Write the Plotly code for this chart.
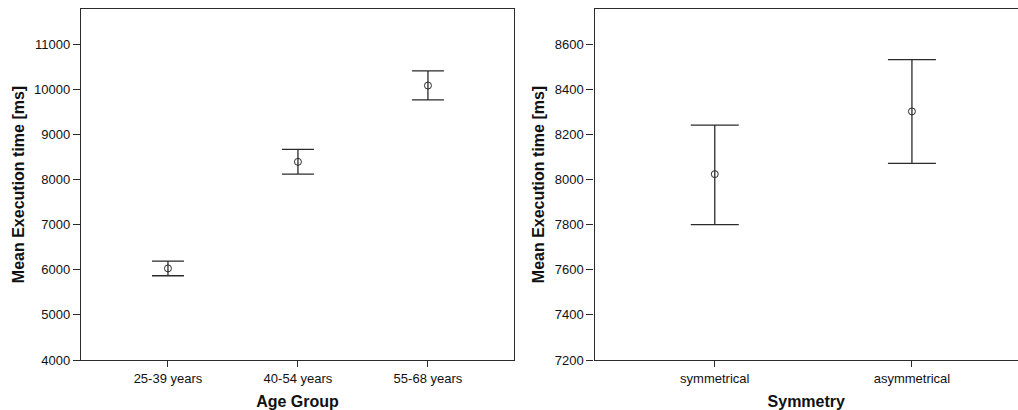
import plotly.graph_objects as go

# Left panel: Age Group
age_groups = ["25-39 years", "40-54 years", "55-68 years"]
age_means = [6030, 8390, 10080]
age_upper = [6190, 8665, 10405]
age_lower = [5867, 8118, 9763]

# Right panel: Symmetry
sym_groups = ["symmetrical", "asymmetrical"]
sym_means = [8024, 8302]
sym_upper = [8241, 8532]
sym_lower = [7800, 8072]

left_ticks = [4000, 5000, 6000, 7000, 8000, 9000, 10000, 11000]
right_ticks = [7200, 7400, 7600, 7800, 8000, 8200, 8400, 8600]

W, H = 1018, 410
line_col = "#2b2b2b"
font_fam = "Liberation Sans, Arial, sans-serif"

fig = go.Figure()

def add_panel(cats, means, upper, lower, xa, ya, capw):
    fig.add_trace(go.Scatter(
        x=list(range(len(cats))), y=means, mode="markers",
        xaxis=xa, yaxis=ya,
        marker=dict(symbol="circle-open", size=7, color=line_col, line=dict(width=1, color=line_col)),
        error_y=dict(type="data", symmetric=False,
                     array=[u - m for u, m in zip(upper, means)],
                     arrayminus=[m - l for m, l in zip(means, lower)],
                     color=line_col, thickness=1.3, width=capw),
        showlegend=False, hoverinfo="skip"))

add_panel(age_groups, age_means, age_upper, age_lower, "x", "y", 16)
add_panel(sym_groups, sym_means, sym_upper, sym_lower, "x2", "y2", 24)

common_x = dict(showgrid=False, zeroline=False, showline=True, linecolor=line_col, linewidth=1.3,
                ticks="outside", ticklen=6, tickcolor=line_col, tickwidth=1,
                tickfont=dict(family=font_fam, size=13, color="#111"),
                title_font=dict(family=font_fam, size=16, color="#111"))
common_y = dict(showgrid=False, zeroline=False, showline=True, linecolor=line_col, linewidth=1.3,
                ticks="outside", ticklen=7, tickcolor=line_col, tickwidth=1, tickformat="d",
                tickfont=dict(family=font_fam, size=13, color="#111"),
                title_font=dict(family=font_fam, size=16, color="#111"))

fig.update_layout(
    width=W, height=H,
    margin=dict(l=0, r=0, t=9, b=50),
    paper_bgcolor="white", plot_bgcolor="white",
    font=dict(family=font_fam),
    xaxis=dict(domain=[81 / W, 514 / W], range=[-0.669, 2.662],
               tickvals=[0, 1, 2], ticktext=age_groups, mirror=True,
               title=dict(text="<b>Age Group</b>", standoff=12), anchor="y", **common_x),
    yaxis=dict(domain=[0, 1], range=[4000, 11776], tickvals=left_ticks, mirror=True,
               title=dict(text="<b>Mean Execution time [ms]</b>", standoff=5), anchor="x", **common_y),
    xaxis2=dict(domain=[594.5 / W, 1.0], range=[-0.61, 1.538],
                tickvals=[0, 1], ticktext=sym_groups, mirror=True,
                title=dict(text="<b>Symmetry</b>", standoff=12), anchor="y2", **common_x),
    yaxis2=dict(domain=[0, 1], range=[7200, 8756], tickvals=right_ticks, mirror=False,
                title=dict(text="<b>Mean Execution time [ms]</b>", standoff=6), anchor="x2", **common_y),
)

fig.write_html("out.html",
               config={"displayModeBar": False},
               post_script="document.body.style.margin='0';document.body.style.overflow='hidden';")
